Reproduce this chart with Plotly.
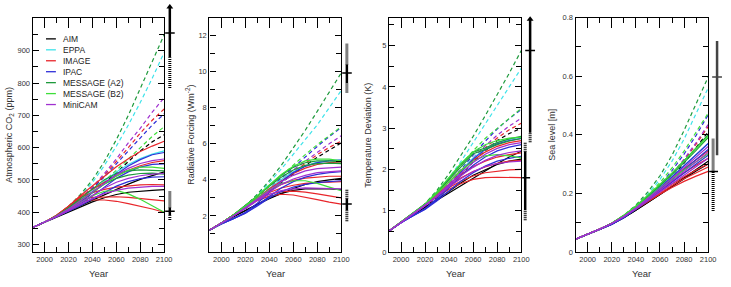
import plotly.graph_objects as go

# ---------------- data ----------------
years = [1990, 2000, 2010, 2020, 2030, 2040, 2050, 2060, 2070, 2080, 2090, 2100]
models = ["AIM", "EPPA", "IMAGE", "IPAC", "MESSAGE (A2)", "MESSAGE (B2)", "MiniCAM"]
model_colors = ["#000000", "#3fe3ea", "#e8262b", "#2f2fd8", "#1e9a3c", "#3ede3a", "#a030d0"]

# model index of each stabilisation (solid) scenario, same order in every panel
stab_models = [0, 0, 1, 2, 2, 2, 2, 2, 3, 3, 3, 4, 4, 5, 5, 6, 6, 6]

# ---- Atmospheric CO2 (ppm) ----
co2_base = [
    [353, 369, 387, 407, 432, 460, 490, 522, 557, 590, 618, 640],
    [353, 369, 389, 415, 450, 492, 545, 605, 670, 740, 815, 895],
    [353, 369, 388, 412, 442, 476, 515, 556, 600, 645, 685, 720],
    [353, 369, 388, 411, 440, 473, 510, 550, 592, 632, 670, 705],
    [353, 369, 390, 418, 455, 500, 557, 625, 700, 785, 865, 950],
    [353, 369, 387, 408, 434, 463, 495, 530, 565, 600, 635, 665],
    [353, 369, 388, 412, 443, 478, 520, 565, 615, 660, 710, 755],
]
co2_stab = [
    [353, 369, 387, 404, 421, 437, 454, 471, 487, 502, 514, 525],
    [353, 369, 386, 402, 418, 432, 445, 455, 462, 466, 468, 470],
    [353, 369, 389, 413, 440, 468, 497, 525, 548, 566, 580, 590],
    [353, 369, 391, 419, 452, 482, 512, 541, 566, 588, 605, 620],
    [353, 369, 391, 418, 449, 472, 493, 512, 530, 544, 554, 560],
    [353, 369, 390, 417, 446, 461, 471, 478, 482, 485, 486, 485],
    [353, 369, 390, 416, 440, 446, 448, 448, 446, 442, 438, 435],
    [353, 369, 389, 414, 434, 438, 438, 434, 427, 419, 410, 400],
    [353, 369, 387, 408, 432, 460, 490, 518, 543, 563, 578, 585],
    [353, 369, 386, 405, 426, 450, 478, 505, 525, 540, 548, 550],
    [353, 369, 386, 403, 421, 441, 462, 481, 495, 504, 509, 510],
    [353, 369, 389, 414, 443, 473, 501, 520, 528, 531, 530, 528],
    [353, 369, 388, 411, 437, 463, 488, 505, 515, 520, 521, 518],
    [353, 369, 388, 410, 436, 462, 488, 512, 530, 540, 540, 536],
    [353, 369, 388, 409, 431, 451, 465, 468, 457, 440, 420, 400],
    [353, 369, 388, 410, 436, 463, 491, 516, 536, 551, 560, 565],
    [353, 369, 387, 407, 430, 453, 475, 493, 505, 513, 518, 520],
    [353, 369, 386, 405, 425, 443, 458, 468, 475, 478, 480, 480],
]
# uncertainty bars: [dotted low, solid low, central, solid high, dotted high]
co2_bar_high = [785, 880, 955, 1036, 1036]
co2_bar_low = [376, 391, 403, 415, 466]

# ---- Radiative forcing (W m-2) ----
rf_base = [
    [1.2, 1.6, 2.0, 2.4, 2.9, 3.35, 3.85, 4.35, 4.8, 5.25, 5.65, 6.05],
    [1.2, 1.6, 2.0, 2.5, 3.15, 3.85, 4.6, 5.4, 6.2, 7.05, 8.0, 8.95],
    [1.2, 1.6, 2.0, 2.45, 2.95, 3.45, 3.95, 4.45, 4.95, 5.4, 5.8, 6.15],
    [1.2, 1.6, 2.0, 2.45, 2.95, 3.5, 4.1, 4.7, 5.3, 5.85, 6.4, 6.9],
    [1.2, 1.6, 2.05, 2.55, 3.2, 3.95, 4.8, 5.75, 6.75, 7.8, 8.85, 9.93],
    [1.2, 1.6, 2.05, 2.5, 3.05, 3.65, 4.25, 4.85, 5.4, 5.95, 6.45, 6.95],
    [1.2, 1.6, 2.0, 2.45, 2.95, 3.45, 4.0, 4.55, 5.05, 5.55, 6.0, 6.45],
]
rf_stab = [
    [1.2, 1.6, 1.95, 2.3, 2.63, 2.95, 3.25, 3.52, 3.74, 3.9, 4.0, 4.08],
    [1.2, 1.6, 1.95, 2.3, 2.68, 3.0, 3.25, 3.42, 3.5, 3.52, 3.5, 3.47],
    [1.2, 1.6, 2.0, 2.5, 3.0, 3.52, 4.02, 4.45, 4.78, 4.98, 5.08, 5.1],
    [1.2, 1.6, 2.05, 2.5, 3.0, 3.5, 3.95, 4.35, 4.65, 4.85, 4.95, 5.0],
    [1.2, 1.6, 2.05, 2.5, 3.0, 3.4, 3.75, 3.97, 4.1, 4.16, 4.2, 4.2],
    [1.2, 1.6, 2.05, 2.5, 2.95, 3.3, 3.55, 3.7, 3.8, 3.85, 3.88, 3.9],
    [1.2, 1.6, 2.05, 2.48, 2.9, 3.2, 3.35, 3.37, 3.32, 3.22, 3.1, 3.0],
    [1.2, 1.6, 2.05, 2.45, 2.85, 3.1, 3.2, 3.16, 3.05, 2.9, 2.76, 2.65],
    [1.2, 1.55, 1.85, 2.2, 2.7, 3.3, 3.9, 4.4, 4.75, 4.95, 5.05, 5.1],
    [1.2, 1.55, 1.85, 2.15, 2.6, 3.1, 3.55, 3.9, 4.15, 4.3, 4.4, 4.45],
    [1.2, 1.55, 1.85, 2.15, 2.55, 3.0, 3.35, 3.6, 3.75, 3.85, 3.9, 3.95],
    [1.2, 1.6, 2.05, 2.55, 3.1, 3.7, 4.25, 4.7, 4.95, 5.05, 5.05, 5.0],
    [1.2, 1.6, 2.05, 2.55, 3.1, 3.65, 4.15, 4.55, 4.8, 4.9, 4.93, 4.9],
    [1.2, 1.6, 2.05, 2.55, 3.12, 3.72, 4.3, 4.75, 5.05, 5.15, 5.15, 5.05],
    [1.2, 1.6, 2.05, 2.5, 3.0, 3.45, 3.8, 3.95, 3.95, 3.8, 3.6, 3.4],
    [1.2, 1.6, 2.0, 2.45, 2.95, 3.45, 3.9, 4.25, 4.5, 4.62, 4.68, 4.7],
    [1.2, 1.6, 2.0, 2.45, 2.9, 3.35, 3.75, 4.05, 4.25, 4.4, 4.47, 4.5],
    [1.2, 1.6, 2.0, 2.4, 2.85, 3.2, 3.4, 3.5, 3.55, 3.55, 3.52, 3.5],
]
rf_bar_high = [8.85, 9.37, 9.92, 10.4, 11.55]
rf_bar_low = [1.7, 2.3, 2.66, 2.95, 3.45]

# ---- Temperature deviation (K) ----
temp_base = [
    [0.51, 0.72, 0.91, 1.1, 1.32, 1.58, 1.88, 2.18, 2.45, 2.7, 2.87, 3.0],
    [0.51, 0.72, 0.93, 1.15, 1.45, 1.8, 2.2, 2.65, 3.1, 3.55, 4.0, 4.45],
    [0.51, 0.72, 0.92, 1.13, 1.38, 1.65, 1.95, 2.25, 2.52, 2.76, 2.96, 3.12],
    [0.51, 0.72, 0.92, 1.12, 1.38, 1.68, 2.0, 2.35, 2.68, 2.98, 3.23, 3.45],
    [0.51, 0.72, 0.93, 1.17, 1.5, 1.9, 2.35, 2.8, 3.3, 3.8, 4.33, 4.88],
    [0.51, 0.72, 0.93, 1.15, 1.45, 1.78, 2.1, 2.45, 2.75, 3.0, 3.25, 3.48],
    [0.51, 0.72, 0.92, 1.12, 1.38, 1.66, 1.96, 2.28, 2.57, 2.83, 3.05, 3.24],
]
temp_stab = [
    [0.51, 0.72, 0.9, 1.08, 1.25, 1.43, 1.62, 1.8, 1.98, 2.14, 2.3, 2.44],
    [0.51, 0.72, 0.9, 1.08, 1.27, 1.47, 1.68, 1.86, 2.0, 2.12, 2.2, 2.25],
    [0.51, 0.72, 0.92, 1.13, 1.4, 1.7, 2.0, 2.28, 2.5, 2.65, 2.73, 2.78],
    [0.51, 0.72, 0.93, 1.15, 1.42, 1.7, 1.98, 2.22, 2.42, 2.56, 2.65, 2.7],
    [0.51, 0.72, 0.93, 1.15, 1.4, 1.65, 1.88, 2.07, 2.2, 2.3, 2.36, 2.4],
    [0.51, 0.72, 0.93, 1.15, 1.38, 1.6, 1.8, 1.95, 2.06, 2.15, 2.2, 2.22],
    [0.51, 0.72, 0.93, 1.14, 1.36, 1.56, 1.72, 1.84, 1.92, 1.96, 1.99, 2.0],
    [0.51, 0.72, 0.93, 1.13, 1.34, 1.52, 1.66, 1.76, 1.8, 1.81, 1.8, 1.8],
    [0.51, 0.71, 0.88, 1.05, 1.3, 1.62, 1.95, 2.25, 2.48, 2.62, 2.7, 2.75],
    [0.51, 0.71, 0.88, 1.04, 1.27, 1.55, 1.85, 2.1, 2.3, 2.45, 2.54, 2.6],
    [0.51, 0.71, 0.88, 1.03, 1.24, 1.48, 1.72, 1.92, 2.08, 2.2, 2.27, 2.32],
    [0.51, 0.72, 0.93, 1.16, 1.45, 1.78, 2.12, 2.42, 2.52, 2.65, 2.74, 2.8],
    [0.51, 0.72, 0.93, 1.16, 1.44, 1.75, 2.05, 2.38, 2.48, 2.6, 2.69, 2.75],
    [0.51, 0.72, 0.93, 1.16, 1.46, 1.8, 2.15, 2.42, 2.6, 2.7, 2.76, 2.78],
    [0.51, 0.72, 0.93, 1.15, 1.42, 1.7, 1.98, 2.2, 2.33, 2.36, 2.33, 2.28],
    [0.51, 0.72, 0.92, 1.12, 1.37, 1.64, 1.92, 2.17, 2.37, 2.51, 2.6, 2.65],
    [0.51, 0.72, 0.92, 1.12, 1.36, 1.61, 1.85, 2.05, 2.22, 2.34, 2.41, 2.45],
    [0.51, 0.72, 0.92, 1.12, 1.35, 1.58, 1.78, 1.95, 2.07, 2.14, 2.18, 2.2],
]
temp_bar_high = [2.66, 2.89, 4.88, 5.64, 5.64]
temp_bar_low = [0.77, 1.02, 1.8, 2.43, 2.66]

# ---- Sea level (m) ----
sl_base = [
    [0.044, 0.06, 0.078, 0.096, 0.119, 0.146, 0.178, 0.214, 0.255, 0.303, 0.355, 0.41],
    [0.044, 0.06, 0.078, 0.098, 0.124, 0.157, 0.198, 0.248, 0.31, 0.385, 0.47, 0.56],
    [0.044, 0.06, 0.078, 0.097, 0.121, 0.15, 0.184, 0.222, 0.265, 0.313, 0.368, 0.428],
    [0.044, 0.06, 0.078, 0.097, 0.121, 0.151, 0.187, 0.229, 0.278, 0.334, 0.398, 0.468],
    [0.044, 0.06, 0.078, 0.098, 0.125, 0.16, 0.205, 0.26, 0.33, 0.415, 0.505, 0.597],
    [0.044, 0.06, 0.078, 0.098, 0.124, 0.156, 0.194, 0.237, 0.287, 0.344, 0.407, 0.474],
    [0.044, 0.06, 0.078, 0.097, 0.121, 0.15, 0.184, 0.223, 0.267, 0.317, 0.373, 0.435],
]
sl_stab = [
    [0.044, 0.06, 0.077, 0.095, 0.117, 0.142, 0.168, 0.196, 0.225, 0.254, 0.283, 0.31],
    [0.044, 0.06, 0.077, 0.095, 0.117, 0.142, 0.169, 0.196, 0.223, 0.25, 0.276, 0.30],
    [0.044, 0.06, 0.078, 0.097, 0.122, 0.152, 0.186, 0.222, 0.258, 0.294, 0.332, 0.37],
    [0.044, 0.06, 0.078, 0.098, 0.123, 0.151, 0.183, 0.217, 0.251, 0.284, 0.315, 0.345],
    [0.044, 0.06, 0.078, 0.098, 0.122, 0.15, 0.18, 0.211, 0.241, 0.27, 0.296, 0.32],
    [0.044, 0.06, 0.078, 0.098, 0.122, 0.149, 0.177, 0.205, 0.232, 0.257, 0.28, 0.30],
    [0.044, 0.06, 0.078, 0.097, 0.121, 0.147, 0.174, 0.201, 0.226, 0.25, 0.271, 0.29],
    [0.044, 0.06, 0.078, 0.097, 0.12, 0.146, 0.172, 0.197, 0.22, 0.241, 0.259, 0.275],
    [0.044, 0.06, 0.077, 0.095, 0.119, 0.149, 0.183, 0.219, 0.256, 0.293, 0.331, 0.37],
    [0.044, 0.06, 0.077, 0.095, 0.118, 0.147, 0.179, 0.213, 0.247, 0.281, 0.316, 0.35],
    [0.044, 0.06, 0.077, 0.094, 0.117, 0.145, 0.175, 0.207, 0.239, 0.27, 0.3, 0.33],
    [0.044, 0.06, 0.078, 0.098, 0.124, 0.155, 0.19, 0.228, 0.268, 0.31, 0.355, 0.40],
    [0.044, 0.06, 0.078, 0.098, 0.124, 0.155, 0.189, 0.226, 0.264, 0.304, 0.347, 0.39],
    [0.044, 0.06, 0.078, 0.098, 0.125, 0.157, 0.193, 0.231, 0.27, 0.311, 0.353, 0.395],
    [0.044, 0.06, 0.078, 0.098, 0.124, 0.153, 0.185, 0.218, 0.25, 0.28, 0.308, 0.335],
    [0.044, 0.06, 0.078, 0.097, 0.121, 0.15, 0.182, 0.217, 0.252, 0.288, 0.324, 0.36],
    [0.044, 0.06, 0.078, 0.097, 0.121, 0.149, 0.179, 0.211, 0.243, 0.276, 0.308, 0.34],
    [0.044, 0.06, 0.078, 0.097, 0.12, 0.147, 0.176, 0.206, 0.236, 0.264, 0.292, 0.32],
]
sl_bar_high = [0.33, 0.33, 0.597, 0.72, 0.72]
sl_bar_low = [0.14, 0.275, 0.275, 0.275, 0.386]

y_titles = ["Atmospheric CO<sub>2</sub> (ppm)", "Radiative Forcing (Wm<sup>-2</sup>)",
            "Temperature Deviation (K)", "Sea level [m]"]
x_title = "Year"

# ---------------- layout geometry ----------------
W, H = 731, 287
FONT = "Liberation Sans, Arial, sans-serif"
def fx(px): return px / W
def fy(py): return 1 - py / H

plot_x = [(33, 166), (211.7, 345), (393.3, 527), (582, 716)]
y_top, y_bot = 14, 256
ydom = [fy(y_bot), fy(y_top)]
y_ranges = [(277, 1003), (0, 13), (0, 5.68), (0, 0.8)]
y_tickvals = [[300, 400, 500, 600, 700, 800, 900], [2, 4, 6, 8, 10, 12],
              [0, 1, 2, 3, 4, 5], [0, 0.2, 0.4, 0.6, 0.8]]
y_minor = [50, 1, 0.5, 0.1]
title_x = [10, 192, 372, 558]

panels = [
    (co2_base, co2_stab, co2_bar_high, co2_bar_low),
    (rf_base, rf_stab, rf_bar_high, rf_bar_low),
    (temp_base, temp_stab, temp_bar_high, temp_bar_low),
    (sl_base, sl_stab, sl_bar_high, sl_bar_low),
]
# bar positions in strip px units, arrow flags, colors
bar_pos = [(4.7, 4.7), (4.7, 4.7), (8, 3), (8, 4)]
bar_arrow = [True, False, True, False]
bar_high_color = ["#000", "#000", "#000", "#444"]

fig = go.Figure()
layout = dict(width=W, height=H, margin=dict(l=0, r=0, t=0, b=0),
              paper_bgcolor="white", plot_bgcolor="white", showlegend=False,
              font=dict(family=FONT, size=8, color="#333"))
annotations, shapes = [], []

for i, (base, stab, bhi, blo) in enumerate(panels):
    n = i + 1
    s = i + 5
    xa = "x" if n == 1 else f"x{n}"
    ya = "y" if n == 1 else f"y{n}"
    x0, x1 = plot_x[i]
    r0, r1 = y_ranges[i]
    axis_common = dict(showgrid=False, zeroline=False, showline=True, linecolor="black",
                       linewidth=1.3, mirror="ticks", ticks="inside", tickcolor="black",
                       tickfont=dict(size=7.5, color="#333", family=FONT))
    layout[f"xaxis{n}"] = dict(domain=[fx(x0), fx(x1)], range=[1990, 2100], anchor=ya,
                               tick0=2000, dtick=20, ticklen=10, tickwidth=1.2,
                               minor=dict(tick0=2000, dtick=10, ticklen=5, ticks="inside",
                                          tickcolor="black", tickwidth=1),
                               **axis_common)
    layout[f"yaxis{n}"] = dict(domain=ydom, range=[r0, r1], anchor=xa,
                               tickmode="array", tickvals=y_tickvals[i], ticklen=6, tickwidth=1.2,
                               minor=dict(tickmode="linear", tick0=0, dtick=y_minor[i], ticklen=5,
                                          ticks="inside", tickcolor="black", tickwidth=1),
                               **axis_common)
    # strip axes for uncertainty bars (same vertical scale, full height)
    per = (r1 - r0) / (ydom[1] - ydom[0])
    layout[f"xaxis{s}"] = dict(domain=[fx(x1 + 1), fx(x1 + 15)], range=[0, 14], anchor=f"y{s}",
                               visible=False)
    layout[f"yaxis{s}"] = dict(domain=[0, 1], range=[r0 - ydom[0] * per, r1 + (1 - ydom[1]) * per],
                               anchor=f"x{s}", visible=False)

    # baselines (dashed)
    for m, vals in enumerate(base):
        fig.add_trace(go.Scatter(x=years, y=vals, mode="lines", xaxis=xa, yaxis=ya,
                                 line=dict(color=model_colors[m], width=1.2, dash="4px,3px"),
                                 hoverinfo="skip"))
    # stabilisation (solid)
    for k, vals in enumerate(stab):
        m = stab_models[k]
        fig.add_trace(go.Scatter(x=years, y=vals, mode="lines", xaxis=xa, yaxis=ya,
                                 line=dict(color=model_colors[m], width=1.2),
                                 hoverinfo="skip"))

    # uncertainty bars
    for j, (bar, col) in enumerate([(bhi, bar_high_color[i]), (blo, "#000")]):
        xb = bar_pos[i][j]
        dlo, slo, c, shi, dhi = bar
        sx, sy = f"x{s}", f"y{s}"
        if slo > dlo:
            fig.add_trace(go.Scatter(x=[xb, xb], y=[dlo, slo], mode="lines", xaxis=sx, yaxis=sy,
                                     line=dict(color=col, width=3, dash="1px,1px"), hoverinfo="skip"))
        if dhi > shi:
            fig.add_trace(go.Scatter(x=[xb, xb], y=[shi, dhi], mode="lines", xaxis=sx, yaxis=sy,
                                     line=dict(color=col, width=3, dash="1px,1px"), hoverinfo="skip"))
        if shi > slo:
            fig.add_trace(go.Scatter(x=[xb, xb], y=[slo, shi], mode="lines", xaxis=sx, yaxis=sy,
                                     line=dict(color=col, width=2.5), hoverinfo="skip"))
        fig.add_trace(go.Scatter(x=[xb], y=[c], mode="markers", xaxis=sx, yaxis=sy,
                                 marker=dict(symbol="line-ew", size=7,
                                             line=dict(color=col, width=1.5)),
                                 hoverinfo="skip"))
        if j == 0 and bar_arrow[i]:
            fig.add_trace(go.Scatter(x=[xb], y=[dhi], mode="markers", xaxis=sx, yaxis=sy,
                                     marker=dict(symbol="triangle-up", size=6, color=col),
                                     hoverinfo="skip"))

    # titles
    annotations.append(dict(text=y_titles[i], x=fx(title_x[i]), y=fy((y_top + y_bot) / 2),
                            xref="paper", yref="paper", showarrow=False, textangle=-90,
                            xanchor="center", yanchor="middle",
                            font=dict(size=9, color="#333", family=FONT)))
    annotations.append(dict(text=x_title, x=fx((x0 + x1) / 2), y=fy(278), xref="paper", yref="paper",
                            showarrow=False, xanchor="center", yanchor="middle",
                            font=dict(size=9.5, color="#333", family=FONT)))

# manual legend in first panel
for m, name in enumerate(models):
    yy = 36 + 11.3 * m
    shapes.append(dict(type="line", xref="paper", yref="paper", x0=fx(46.5), x1=fx(56.5),
                       y0=fy(yy), y1=fy(yy), line=dict(color=model_colors[m], width=1.3)))
    annotations.append(dict(text=name, x=fx(61.5), y=fy(yy), xref="paper", yref="paper",
                            showarrow=False, xanchor="left", yanchor="middle",
                            font=dict(size=8.5, color="#222", family=FONT)))

layout["annotations"] = annotations
layout["shapes"] = shapes
fig.update_layout(**layout)
fig.write_html("out.html")
